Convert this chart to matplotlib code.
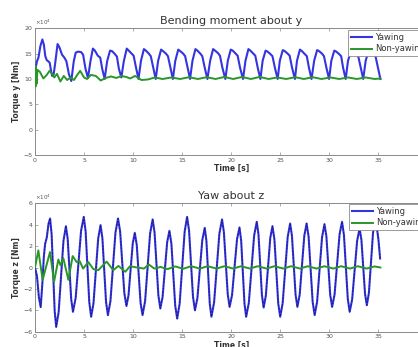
import matplotlib
matplotlib.use("Agg")
import matplotlib.pyplot as plt

# ---------------- data (units of 1e4 Nm) ----------------
t_bend_yaw = [0.0, 0.2, 0.35, 0.55, 0.75, 0.9, 1.05, 1.2, 1.35, 1.5, 1.6, 1.75, 1.9, 2.05, 2.3, 2.5,
              2.75, 3.0, 3.2, 3.45, 3.7,
              3.95, 4.15, 4.4, 4.7, 4.9, 5.15, 5.4,
              5.65, 5.9, 6.1, 6.4, 6.65, 6.85, 7.1,
              7.35, 7.65, 7.85, 8.15, 8.35, 8.55, 8.8,
              9.05, 9.35, 9.55, 9.85, 10.05, 10.3, 10.55,
              10.8, 11.1, 11.3, 11.6, 11.8, 12.05, 12.3,
              12.55, 12.85, 13.05, 13.35, 13.55, 13.8, 14.05,
              14.3, 14.6, 14.8, 15.1, 15.3, 15.55, 15.8,
              16.05, 16.35, 16.55, 16.85, 17.05, 17.3, 17.57,
              17.85, 18.15, 18.35, 18.65, 18.85, 19.1, 19.4,
              19.65, 19.95, 20.15, 20.45, 20.65, 20.9, 21.2,
              21.45, 21.75, 21.95, 22.25, 22.45, 22.7, 22.97,
              23.2, 23.5, 23.7, 24.0, 24.2, 24.45, 24.73,
              24.95, 25.25, 25.45, 25.75, 25.95, 26.2, 26.49,
              26.7, 27.0, 27.2, 27.5, 27.7, 27.92, 28.18,
              28.45, 28.75, 28.95, 29.25, 29.45, 29.7, 29.97,
              30.2, 30.5, 30.7, 31.0, 31.2, 31.4, 31.66,
              31.9, 32.2, 32.4, 32.7, 32.95, 33.2, 33.45,
              33.7, 34.0, 34.2, 34.5, 34.7, 34.95, 35.2]
v_bend_yaw = [11.5, 13.5, 14.2, 16.5, 17.8, 16.8, 14.5, 13.7, 13.5, 13.2, 12.0, 10.6, 10.9, 13.0, 16.9, 16.2,
              14.8, 14.2, 13.5, 11.0, 9.6,
              13.5, 15.2, 15.4, 15.3, 14.8, 12.0, 10.2,
              13.5, 16.0, 15.6, 14.6, 14.2, 12.0, 10.0,
              13.5, 15.6, 15.5, 14.9, 14.4, 12.0, 10.3,
              13.5, 16.0, 15.6, 15.0, 14.6, 12.2, 10.0,
              13.6, 15.9, 15.6, 15.0, 14.5, 12.2, 10.0,
              13.6, 15.8, 15.5, 15.0, 14.5, 12.2, 10.0,
              13.6, 15.8, 15.5, 15.0, 14.5, 12.2, 10.0,
              13.6, 15.9, 15.6, 15.0, 14.5, 12.2, 10.0,
              13.6, 15.9, 15.6, 15.1, 14.6, 12.2, 10.0,
              13.6, 15.8, 15.6, 15.0, 14.6, 12.2, 10.0,
              13.6, 15.9, 15.6, 15.0, 14.6, 12.2, 10.0,
              13.6, 15.6, 15.4, 14.9, 14.5, 12.2, 10.0,
              13.6, 15.7, 15.5, 15.0, 14.6, 12.2, 10.0,
              13.6, 15.8, 15.5, 14.9, 14.5, 12.2, 10.0,
              13.6, 15.7, 15.5, 15.0, 14.5, 12.2, 10.0,
              13.6, 15.6, 15.4, 14.9, 14.5, 12.2, 10.0,
              13.6, 15.5, 15.3, 14.9, 14.4, 12.2, 10.0,
              13.6, 15.6, 15.5, 15.0, 14.5, 12.2, 10.0]

t_bend_non = [0.0, 0.05, 0.1, 0.15, 0.25, 0.5, 0.85, 1.2, 1.48, 1.72, 1.97, 2.24, 2.59, 2.93, 3.28, 3.62,
              3.97, 4.3, 4.6, 5.0, 5.3, 5.7, 6.2, 6.7, 7.2, 7.75, 8.3, 8.8, 9.3, 9.7, 10.2, 10.85,
              11.5, 12.2, 13.0, 13.9, 14.8, 15.7, 16.6, 17.5, 18.4, 19.3, 20.2, 21.1, 22.0, 22.9,
              23.8, 24.7, 25.6, 26.5, 27.4, 28.3, 29.2, 30.1, 31.0, 31.9, 32.8, 33.7, 34.6, 35.2]
v_bend_non = [12.4, 8.5, 12.5, 9.0, 11.8, 11.4, 10.1, 10.8, 11.6, 11.1, 10.3, 11.0, 9.5, 10.6, 9.8, 10.3,
              9.8, 10.8, 11.6, 10.3, 10.0, 10.8, 10.6, 9.7, 10.2, 10.5, 10.2, 10.6, 10.4, 10.1, 10.6, 9.8,
              9.9, 10.3, 10.0, 10.3, 10.0, 10.35, 10.0, 10.35, 10.0, 10.4, 10.0, 10.4, 10.0, 10.4,
              10.0, 10.3, 10.0, 10.35, 10.0, 10.35, 10.0, 10.3, 10.0, 10.3, 10.0, 10.3, 10.0, 10.1]

t_yaw_yaw = [0.0, 0.2, 0.4, 0.58, 0.75, 0.9, 1.03, 1.2, 1.38, 1.54,
             1.695, 1.85, 2.005, 2.16, 2.41, 2.655, 2.90, 3.15,
             3.33, 3.51, 3.69, 3.87, 4.145, 4.42, 4.695, 4.97,
             5.16, 5.345, 5.53, 5.72, 5.96, 6.2, 6.44, 6.68,
             6.87, 7.055, 7.24, 7.43, 7.69, 7.945, 8.20, 8.46,
             8.675, 8.89, 9.105, 9.32, 9.53, 9.745, 9.96, 10.17,
             10.37, 10.565, 10.76, 10.96, 11.22, 11.475, 11.73, 11.99,
             12.185, 12.38, 12.575, 12.77, 13.0, 13.235, 13.47, 13.7,
             13.90, 14.095, 14.29, 14.49, 14.74, 14.995, 15.25, 15.5,
             15.7, 15.9, 16.1, 16.3, 16.55, 16.8, 17.05, 17.3,
             17.47, 17.64, 17.81, 17.98, 18.25, 18.52, 18.79, 19.06,
             19.25, 19.445, 19.64, 19.83, 20.08, 20.335, 20.59, 20.84,
             21.01, 21.18, 21.35, 21.52, 21.79, 22.06, 22.33, 22.6,
             22.775, 22.95, 23.125, 23.3, 23.525, 23.75, 23.975, 24.2,
             24.40, 24.595, 24.79, 24.99, 25.24, 25.495, 25.75, 26.0,
             26.185, 26.37, 26.555, 26.74, 26.975, 27.21, 27.445, 27.68,
             27.885, 28.09, 28.295, 28.5, 28.75, 29.0, 29.25, 29.5,
             29.695, 29.89, 30.085, 30.28, 30.53, 30.785, 31.04, 31.29,
             31.485, 31.68, 31.875, 32.07, 32.32, 32.575, 32.83, 33.08,
             33.265, 33.45, 33.635, 33.82, 34.03, 34.24, 34.45, 34.66,
             34.8, 35.0, 35.17]
v_yaw_yaw = [0.0, -0.8, -2.8, -3.7, -1.5, 1.0, 2.2, 2.8, 4.1, 4.58,
             3.10, -0.49, -4.07, -5.55, -4.17, -0.85, 2.48, 3.86,
             2.69, -0.14, -2.97, -4.14, -2.84, 0.30, 3.43, 4.73,
             3.36, 0.07, -3.23, -4.6, -3.35, -0.32, 2.71, 3.96,
             2.73, -0.25, -3.22, -4.45, -3.13, 0.07, 3.26, 4.58,
             3.38, 0.49, -2.40, -3.6, -2.60, -0.18, 2.24, 3.24,
             2.11, -0.61, -3.32, -4.45, -3.14, 0.02, 3.18, 4.49,
             3.27, 0.33, -2.61, -3.83, -2.77, -0.20, 2.37, 3.43,
             2.23, -0.67, -3.57, -4.77, -3.38, -0.02, 3.34, 4.73,
             3.45, 0.37, -2.72, -4.0, -2.87, -0.15, 2.57, 3.7,
             2.48, -0.45, -3.38, -4.6, -3.27, -0.06, 3.16, 4.49,
             3.30, 0.41, -2.48, -3.68, -2.59, 0.03, 2.65, 3.74,
             2.52, -0.43, -3.38, -4.6, -3.31, -0.17, 2.97, 4.27,
             3.10, 0.27, -2.57, -3.74, -2.63, 0.06, 2.75, 3.86,
             2.62, -0.37, -3.36, -4.6, -3.33, -0.25, 2.84, 4.11,
             2.97, 0.22, -2.54, -3.68, -2.54, 0.22, 2.97, 4.11,
             2.86, -0.17, -3.20, -4.45, -3.20, -0.20, 2.80, 4.05,
             2.92, 0.19, -2.55, -3.68, -2.52, 0.30, 3.11, 4.27,
             3.04, 0.07, -2.91, -4.14, -3.0, -0.25, 2.50, 3.64,
             2.59, 0.06, -2.47, -3.52, -2.36, 0.45, 3.26, 4.42,
             4.0, 2.6, 0.84]

t_yaw_non = [0.0, 0.34, 0.78, 1.53, 1.94, 2.38, 2.6, 2.89, 3.4, 3.84, 4.25, 4.55, 4.9, 5.44, 5.95,
             6.45, 7.3, 7.98, 8.5, 9.2, 9.68, 10.4, 11.1, 11.6, 12.16, 12.8, 13.5, 14.3, 15.1,
             15.9, 16.8, 17.6, 18.5, 19.3, 20.2, 21.0, 21.9, 22.7, 23.6, 24.4, 25.3, 26.1, 27.0,
             27.8, 28.7, 29.5, 30.4, 31.2, 32.1, 32.9, 33.8, 34.6, 35.2]
v_yaw_non = [0.0, 1.6, -1.15, 1.45, -1.35, 0.75, 0.2, 0.86, -1.15, 1.07, 0.5, 0.6, -0.1, 0.5, -0.15,
             -0.25, 0.55, -0.25, 0.15, -0.4, 0.12, 0.0, -0.1, 0.28, -0.1, 0.05, -0.15, 0.1, -0.12,
             0.12, -0.1, 0.12, -0.1, 0.12, -0.1, 0.12, -0.1, 0.12, -0.1, 0.12, -0.1, 0.12, -0.1,
             0.12, -0.1, 0.12, -0.1, 0.12, -0.1, 0.12, -0.1, 0.1, 0.0]

titles = ["Bending moment about y", "Yaw about z"]
ylabels = ["Torque y [Nm]", "Torque z [Nm]"]
legend_labels = ["Yawing", "Non-yawing"]
bend_yticks = [-5, 0, 5, 10, 15, 20]
yaw_yticks = [-6, -4, -2, 0, 2, 4, 6]
xticks = [0, 5, 10, 15, 20, 25, 30, 35]

# ---------------- figure ----------------
W, H = 418, 347
fig = plt.figure(figsize=(W / 100, H / 100), dpi=100)
fig.patch.set_facecolor("white")

BLUE = "#3434e0"
GREEN = "#2a962a"
GREY = "#8a8a8a"
TXT = "#333333"


def px_axes(left, top, right, bottom):
    return fig.add_axes([left / W, 1 - bottom / H, (right - left) / W, (bottom - top) / H])


ax1 = px_axes(35, 28.3, 427.5, 155)
ax2 = px_axes(35, 203.3, 427.5, 331.7)

specs = [
    (ax1, t_bend_yaw, v_bend_yaw, t_bend_non, v_bend_non, (-5, 20), bend_yticks, (348, 30)),
    (ax2, t_yaw_yaw, v_yaw_yaw, t_yaw_non, v_yaw_non, (-6, 6), yaw_yticks, (349, 204)),
]

for i, (ax, ta, va, tb, vb, ylim, yt, legpos) in enumerate(specs):
    l1, = ax.plot(ta, va, color=BLUE, lw=1.5, label=legend_labels[0], zorder=3)
    if i == 1:
        ax.plot(ta, va, color="#16166e", lw=0.6, ls=(0, (2, 2)), zorder=3.5)
    l2, = ax.plot(tb, vb, color=GREEN, lw=1.4, label=legend_labels[1], zorder=4)
    ax.set_xlim(0, 40)
    ax.set_ylim(*ylim)
    ax.set_xticks(xticks)
    ax.set_yticks(yt)
    ax.tick_params(direction="in", length=2.5, width=0.5, colors=GREY, labelcolor="#555555",
                   labelsize=4.5, top=True, right=True, pad=2)
    for s in ax.spines.values():
        s.set_color(GREY)
        s.set_linewidth(0.7)
    ax.set_title(titles[i], fontsize=8, color=TXT, pad=3)
    ax.set_xlabel("Time [s]", fontsize=5.5, color=TXT, labelpad=0.8, fontweight="bold")
    ax.set_ylabel(ylabels[i], fontsize=5.5, color=TXT, labelpad=1.5, fontweight="bold")
    ax.text(0.0, 1.012, r"$\times 10^4$", transform=ax.transAxes, fontsize=4, color="#555555",
            ha="left", va="bottom")
    leg = ax.legend(handles=[l1, l2], loc="upper left",
                    bbox_to_anchor=(legpos[0] / W, 1 - legpos[1] / H),
                    bbox_transform=fig.transFigure, borderaxespad=0, fontsize=6,
                    handlelength=2.6, handletextpad=0.4, borderpad=0.3, labelspacing=0.35,
                    fancybox=False, framealpha=1, edgecolor=GREY)
    leg.get_frame().set_linewidth(0.6)
    for txt in leg.get_texts():
        txt.set_color(TXT)
    leg.set_zorder(10)

fig.savefig("out.png", dpi=100, facecolor="white")
